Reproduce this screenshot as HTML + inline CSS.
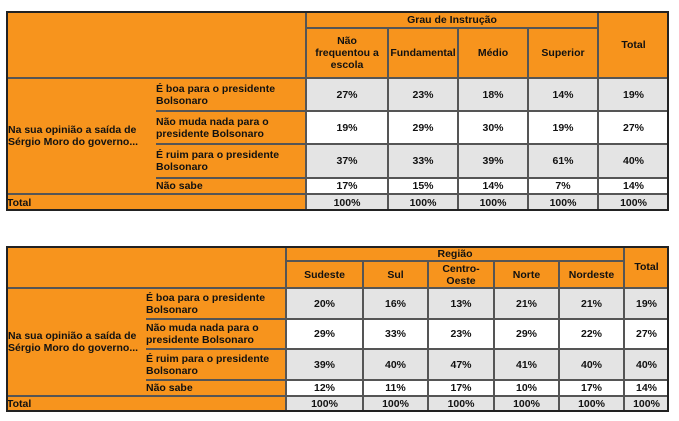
<!DOCTYPE html>
<html><head><meta charset="utf-8">
<style>
html,body{margin:0;padding:0;background:#fff;}
body{width:679px;height:421px;position:relative;overflow:hidden;font-family:"Liberation Sans","DejaVu Sans",sans-serif;font-weight:bold;font-size:10.5px;color:#111;}
.c{position:absolute;box-sizing:border-box;display:flex;align-items:center;line-height:12px;}
.frame{position:absolute;box-sizing:border-box;border:2px solid #222;pointer-events:none;}
</style></head>
<body>
<script>
const OR='#F7941D', GR='#E4E4E4', WH='#FFFFFF';
const rowLabels=['É boa para o presidente<br>Bolsonaro','Não muda nada para o<br>presidente Bolsonaro','É ruim para o presidente<br>Bolsonaro','Não sabe'];
const eduCats=['Não<br>frequentou a<br>escola','Fundamental','Médio','Superior'];
const eduVals=[[27,23,18,14,19],[19,29,30,19,27],[37,33,39,61,40],[17,15,14,7,14]];
const regCats=['Sudeste','Sul','Centro-<br>Oeste','Norte','Nordeste'];
const regVals=[[20,16,13,21,21,19],[29,33,23,29,22,27],[39,40,47,41,40,40],[12,11,17,10,17,14]];

function cell(x1,y1,x2,y2,bg,html,just,name,b){
  const d=document.createElement('div');
  d.className='c';
  d.style.left=x1+'px';d.style.top=y1+'px';d.style.width=(x2-x1)+'px';d.style.height=(y2-y1)+'px';
  d.style.background=bg;d.style.justifyContent=just;d.style.textAlign=just==='center'?'center':'left';
  d.style.border=b||'1px solid #555';
  d.innerHTML=html;
  
  
  document.body.appendChild(d);
  return d;
}
function table(o){
  const {L,T,R,sub,cols,rows,gh,hb,title,cats,vals,nm}=o;
  const n=cats.length;
  cell(L,T,cols[0],hb,OR,'','left',nm+'-corner');
  cell(cols[0],T,cols[n],gh,OR,title,'center',nm+'-group-header');
  for(let i=0;i<n;i++) cell(cols[i],gh,cols[i+1],hb,OR,cats[i],'center',nm+'-col-header');
  cell(cols[n],T,R,hb,OR,'Total','center',nm+'-total-header');
  const q=cell(L,hb,sub,rows[4],OR,'<span style="padding-left:1px">Na sua opinião a saída de<br>Sérgio Moro do governo...</span>','left',nm+'-question-label');
  q.style.borderRight='none';
  for(let r=0;r<4;r++){
    const c=cell(sub,rows[r],cols[0],rows[r+1],OR,rowLabels[r],'left',nm+'-row-label');
    c.style.borderLeft='none';
    const bg=(r%2===0)?GR:WH;
    for(let i=0;i<=n;i++){
      const x2=i<n?cols[i+1]:R;
      cell(cols[i],rows[r],x2,rows[r+1],bg,vals[r][i]+'%','center',nm+'-value-cell');
    }
  }
  cell(L,rows[4],cols[0],rows[5],OR,'Total','left',nm+'-total-row-label');
  for(let i=0;i<=n;i++){
    const x2=i<n?cols[i+1]:R;
    cell(cols[i],rows[4],x2,rows[5],GR,'100%','center',nm+'-total-cell');
  }
  const f=document.createElement('div');
  f.className='frame';
  f.style.left=L+'px';f.style.top=T+'px';f.style.width=(R-L)+'px';f.style.height=(rows[5]-T)+'px';
  
  
  document.body.appendChild(f);
}
table({L:6,T:11,R:669,sub:156,cols:[306,388,458,528,598],rows:[78,111,144,178,194,211],gh:28,hb:78,
  title:'Grau de Instrução',cats:eduCats,vals:eduVals,nm:'education-table'});
table({L:6,T:246,R:669,sub:146,cols:[286,363,428,494,559,624],rows:[288,319,349,380,396,412],gh:261,hb:288,
  title:'Região',cats:regCats,vals:regVals,nm:'region-table'});
</script>
</body></html>
